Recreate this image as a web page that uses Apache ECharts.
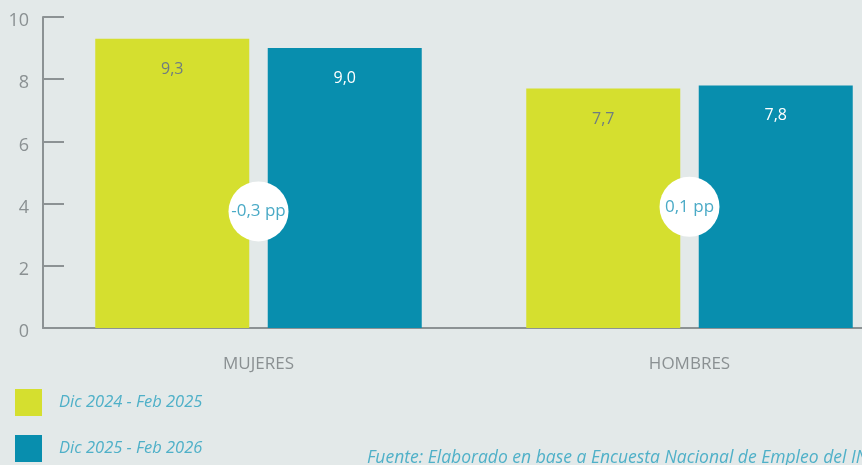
<!DOCTYPE html>
<html><head><meta charset="utf-8">
<script src="https://cdn.jsdelivr.net/npm/echarts@6/dist/echarts.min.js"></script>
<style>html,body{margin:0;padding:0;background:#e3e9e9;overflow:hidden;}#c{width:905px;height:465px;}</style>
</head><body><div id="c"></div>
<script>
const categories = ['MUJERES', 'HOMBRES'];
const seriesNames = ['Dic 2024 - Feb 2025', 'Dic 2025 - Feb 2026'];
const values2025 = [9.3, 7.7];
const values2026 = [9.0, 7.8];
const diffs = [-0.3, 0.1];
const diffPos = [3.75, 3.9];
const yTicks = [0, 2, 4, 6, 8, 10];
const sourceText = 'Fuente: Elaborado en base a Encuesta Nacional de Empleo del INE';

const fmt = v => v.toFixed(1).replace('.', ',');
const chart = echarts.init(document.getElementById('c'));
chart.setOption({
  backgroundColor: '#e3e9e9',
  animation: false,
  grid: { left: 43, right: 0, top: 17, bottom: 137 },
  legend: {
    orient: 'vertical', left: 15, top: 389, padding: 0, itemWidth: 27, itemHeight: 27, itemGap: 19,
    icon: 'rect', data: seriesNames, selectedMode: false,
    textStyle: { color: '#4fb0c8', fontStyle: 'italic', fontSize: 16.5, fontFamily: 'Open Sans', padding: [9, 0, 0, 12] }
  },
  xAxis: {
    type: 'category', data: categories,
    axisLine: { lineStyle: { color: '#8c9294', width: 2 } },
    axisTick: { show: false },
    axisLabel: { color: '#8a9092', fontSize: 17, margin: 28, fontFamily: 'Open Sans' }
  },
  yAxis: {
    type: 'value', min: 0, max: 10, interval: 2,
    axisLine: { show: true, lineStyle: { color: '#8c9294', width: 2 } },
    axisTick: { show: true, inside: true, length: 21, lineStyle: { color: '#8c9294', width: 2 } },
    splitLine: { show: false },
    axisLabel: { color: '#8a9092', fontSize: 18, margin: 14, verticalAlign: 'top', lineHeight: 8, fontFamily: 'Open Sans',
      formatter: v => yTicks.includes(v) ? String(v) : '' }
  },
  series: [
    { name: seriesNames[0], type: 'bar', data: values2025, barWidth: 154, barGap: '12%',
      itemStyle: { color: '#d5df2f' },
      label: { show: true, position: 'insideTop', distance: 23, color: '#6f7d80', fontSize: 16, fontFamily: 'Open Sans', formatter: p => fmt(p.value) } },
    { name: seriesNames[1], type: 'bar', data: values2026, barWidth: 154,
      itemStyle: { color: '#088eae' },
      label: { show: true, position: 'insideTop', distance: 22, color: '#ffffff', fontSize: 16, fontFamily: 'Open Sans', formatter: p => fmt(p.value) } },
    { type: 'scatter', data: diffPos.map((y, i) => [i, y]),
      symbol: 'circle', symbolSize: 60, z: 10,
      itemStyle: { color: '#ffffff', opacity: 1 },
      emphasis: { disabled: true },
      label: { show: true, position: 'inside', color: '#4aaac6', fontSize: 17, fontFamily: 'Open Sans',
        formatter: p => fmt(diffs[p.dataIndex]) + ' pp' } }
  ],
  graphic: [
    { type: 'text', left: 367, top: 449, style: { text: sourceText, fill: '#4fb0c8', font: 'italic 17.5px "Open Sans"' } }
  ]
});
</script></body></html>
